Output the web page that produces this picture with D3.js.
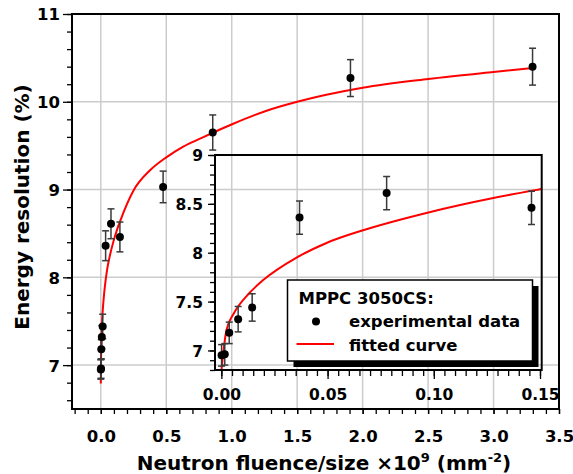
<!DOCTYPE html>
<html><head><meta charset="utf-8">
<script src="https://cdn.jsdelivr.net/npm/d3@7"></script>
<style>
html,body{margin:0;padding:0;background:#fff;}
svg text{font-family:"DejaVu Sans",Verdana,sans-serif;font-weight:bold;fill:#000;}
</style></head>
<body><svg id="chart" width="573" height="474"></svg>
<script>
// ---- data ----
const fluence    = [0.0001, 0.0016, 0.0037, 0.0079, 0.0145, 0.0368, 0.0778, 0.146, 0.476, 0.855, 1.907, 3.298];
const resolution = [6.95, 6.96, 7.18, 7.32, 7.44, 8.36, 8.61, 8.46, 9.03, 9.65, 10.27, 10.40];
const resErr     = [0.11, 0.11, 0.11, 0.13, 0.14, 0.17, 0.17, 0.17, 0.18, 0.20, 0.21, 0.21];
const fitX = [0, 0.0024, 0.0059, 0.0131, 0.0197, 0.0354, 0.0495, 0.0667, 0.097, 0.128, 0.15, 0.25, 0.376, 0.503, 0.63, 0.758, 0.859, 1.012, 1.25, 1.5, 2.0, 2.5, 3.0, 3.3];
const fitY = [6.79, 7.21, 7.38, 7.585, 7.72, 7.95, 8.10, 8.23, 8.41, 8.56, 8.65, 8.99, 9.22, 9.37, 9.49, 9.58, 9.65, 9.75, 9.89, 10.0, 10.16, 10.26, 10.34, 10.385];
const mainXTicks = [0, 0.5, 1.0, 1.5, 2.0, 2.5, 3.0, 3.5];
const mainYTicks = [7, 8, 9, 10, 11];
const insetXTicks = [0, 0.05, 0.10, 0.15];
const insetYTicks = [7, 7.5, 8, 8.5, 9];
const legendTitle = "MPPC 3050CS:";
const legendLabels = ["experimental data", "fitted curve"];

const points = fluence.map((x, i) => ({x, y: resolution[i], e: resErr[i]}));
const fit = fitX.map((x, i) => ({x, y: fitY[i]}));

const svg = d3.select("#chart");
svg.append("rect").attr("width", 573).attr("height", 474).attr("fill", "#fff");

// ---- main scales ----
const x = d3.scaleLinear().domain([-0.22, 3.5]).range([72, 559]);
const y = d3.scaleLinear().domain([6.5, 11]).range([409, 14]);

const gridColor = "#cccccc";
const g = svg.append("g");
// gridlines
g.selectAll(".vg").data(mainXTicks.filter(d => d < 3.5)).join("line")
  .attr("x1", d => x(d)).attr("x2", d => x(d)).attr("y1", y(11)).attr("y2", y(6.5))
  .attr("stroke", gridColor).attr("stroke-width", 1.5);
g.selectAll(".hg").data(mainYTicks.filter(d => d < 11)).join("line")
  .attr("x1", x(-0.22)).attr("x2", x(3.5)).attr("y1", d => y(d)).attr("y2", d => y(d))
  .attr("stroke", gridColor).attr("stroke-width", 1.5);

function styleAxis(sel) {
  sel.select(".domain").remove();
  sel.selectAll(".tick line").attr("stroke", "#000").attr("stroke-width", 1.3);
}
// minor ticks
const xMinor = d3.range(-2, 36).map(i => i / 10);
const yMinor = d3.range(33, 56).map(i => i / 5);
g.append("g").attr("transform", `translate(0,${y(6.5)})`)
  .call(d3.axisBottom(x).tickValues(xMinor).tickSize(5).tickFormat(""))
  .call(styleAxis);
g.append("g").attr("transform", `translate(${x(-0.22)},0)`)
  .call(d3.axisLeft(y).tickValues(yMinor).tickSize(5).tickFormat(""))
  .call(styleAxis);
// major ticks + labels
const xa = g.append("g").attr("transform", `translate(0,${y(6.5)})`)
  .call(d3.axisBottom(x).tickValues(mainXTicks).tickSize(5).tickPadding(18).tickFormat(d3.format(".1f")))
  .call(styleAxis);
xa.selectAll("text").attr("font-size", 16.5).attr("dy", 0).attr("y", 33);
const ya = g.append("g").attr("transform", `translate(${x(-0.22)},0)`)
  .call(d3.axisLeft(y).tickValues(mainYTicks).tickSize(9).tickPadding(3).tickFormat(d3.format("d")))
  .call(styleAxis);
ya.selectAll("text").attr("font-size", 16.5).attr("x", -12).attr("dy", "0.36em");

// frame
g.append("rect").attr("x", x(-0.22)).attr("y", y(11)).attr("width", x(3.5) - x(-0.22)).attr("height", y(6.5) - y(11))
  .attr("fill", "none").attr("stroke", "#000").attr("stroke-width", 2);

// axis titles
const xt = svg.append("text").attr("x", 324).attr("y", 469.5).attr("text-anchor", "middle").attr("font-size", 20);
xt.append("tspan").text("Neutron fluence/size \u00d710");
xt.append("tspan").attr("font-size", 13).attr("dy", -8).text("9");
xt.append("tspan").attr("dy", 8).text(" (mm");
xt.append("tspan").attr("font-size", 13).attr("dy", -8).text("-2");
xt.append("tspan").attr("dy", 8).text(")");
svg.append("text").attr("transform", "translate(28.5,207) rotate(-90)").attr("text-anchor", "middle")
  .attr("font-size", 20).text("Energy resolution (%)");

const errColor = "#3a3a3a";
function drawSeries(parent, sx, sy, pts, curve) {
  parent.append("path").datum(curve)
    .attr("d", d3.line().x(d => sx(d.x)).y(d => sy(d.y)).curve(d3.curveMonotoneX))
    .attr("fill", "none").attr("stroke", "#ff0000").attr("stroke-width", 2);
  const eb = parent.append("g").attr("stroke", errColor).attr("stroke-width", 1.5);
  eb.selectAll(".v").data(pts).join("line")
    .attr("x1", d => sx(d.x)).attr("x2", d => sx(d.x)).attr("y1", d => sy(d.y - d.e)).attr("y2", d => sy(d.y + d.e));
  eb.selectAll(".t").data(pts).join("line")
    .attr("x1", d => sx(d.x) - 3.5).attr("x2", d => sx(d.x) + 3.5).attr("y1", d => sy(d.y + d.e)).attr("y2", d => sy(d.y + d.e));
  eb.selectAll(".b").data(pts).join("line")
    .attr("x1", d => sx(d.x) - 3.5).attr("x2", d => sx(d.x) + 3.5).attr("y1", d => sy(d.y - d.e)).attr("y2", d => sy(d.y - d.e));
  parent.selectAll(".pt").data(pts).join("circle")
    .attr("cx", d => sx(d.x)).attr("cy", d => sy(d.y)).attr("r", 4).attr("fill", "#000");
}
drawSeries(g.append("g"), x, y, points, fit);

// ---- inset ----
const ix = d3.scaleLinear().domain([-0.003, 0.1508]).range([215, 541.7]);
const iy = d3.scaleLinear().domain([6.8, 9.0]).range([370, 155]);
const ig = svg.append("g");
svg.append("defs").append("clipPath").attr("id", "iclip").append("rect")
  .attr("x", ix(-0.003)).attr("y", iy(9)).attr("width", ix(0.1508) - ix(-0.003)).attr("height", iy(6.8) - iy(9));

const ixMinor = d3.range(0, 31).map(i => i * 0.005);
const iyMinor = d3.range(68, 91).map(i => i / 10);
ig.append("g").attr("transform", `translate(0,${iy(6.8)})`)
  .call(d3.axisBottom(ix).tickValues(ixMinor).tickSize(6).tickFormat("")).call(styleAxis);
ig.append("g").attr("transform", `translate(${ix(-0.003)},0)`)
  .call(d3.axisLeft(iy).tickValues(iyMinor).tickSize(5).tickFormat("")).call(styleAxis);
const ixa = ig.append("g").attr("transform", `translate(0,${iy(6.8)})`)
  .call(d3.axisBottom(ix).tickValues(insetXTicks).tickSize(9).tickFormat(d3.format(".2f"))).call(styleAxis);
ixa.selectAll("text").attr("font-size", 15.5).attr("dy", 0).attr("y", 30);
const iya = ig.append("g").attr("transform", `translate(${ix(-0.003)},0)`)
  .call(d3.axisLeft(iy).tickValues(insetYTicks).tickSize(7).tickFormat(d => d3.format("")(d))).call(styleAxis);
iya.selectAll("text").attr("font-size", 15.5).attr("x", -12).attr("dy", "0.36em");

drawSeries(ig.append("g").attr("clip-path", "url(#iclip)"), ix, iy, points.filter(d => d.x <= 0.15), fit.filter(d => d.x <= 0.26));
ig.append("rect").attr("x", ix(-0.003)).attr("y", iy(9)).attr("width", ix(0.1508) - ix(-0.003)).attr("height", iy(6.8) - iy(9))
  .attr("fill", "none").attr("stroke", "#000").attr("stroke-width", 2);

// ---- legend ----
const lg = svg.append("g").attr("transform", "translate(287.5,280)");
const lw = 245, lh = 81;
lg.append("rect").attr("x", 6).attr("y", 6).attr("width", lw).attr("height", lh).attr("fill", "#000");
lg.append("rect").attr("width", lw).attr("height", lh).attr("fill", "#fff").attr("stroke", "#000").attr("stroke-width", 1.5);
lg.append("text").attr("x", 11).attr("y", 23.5).attr("font-size", 16.5).text(legendTitle);
lg.append("circle").attr("cx", 28.5).attr("cy", 41.5).attr("r", 4).attr("fill", "#000");
lg.append("text").attr("x", 61.5).attr("y", 47).attr("font-size", 16.5).text(legendLabels[0]);
lg.append("line").attr("x1", 9).attr("x2", 46.5).attr("y1", 64).attr("y2", 64).attr("stroke", "#ff0000").attr("stroke-width", 2);
lg.append("text").attr("x", 61.5).attr("y", 71).attr("font-size", 16.5).text(legendLabels[1]);
</script></body></html>
